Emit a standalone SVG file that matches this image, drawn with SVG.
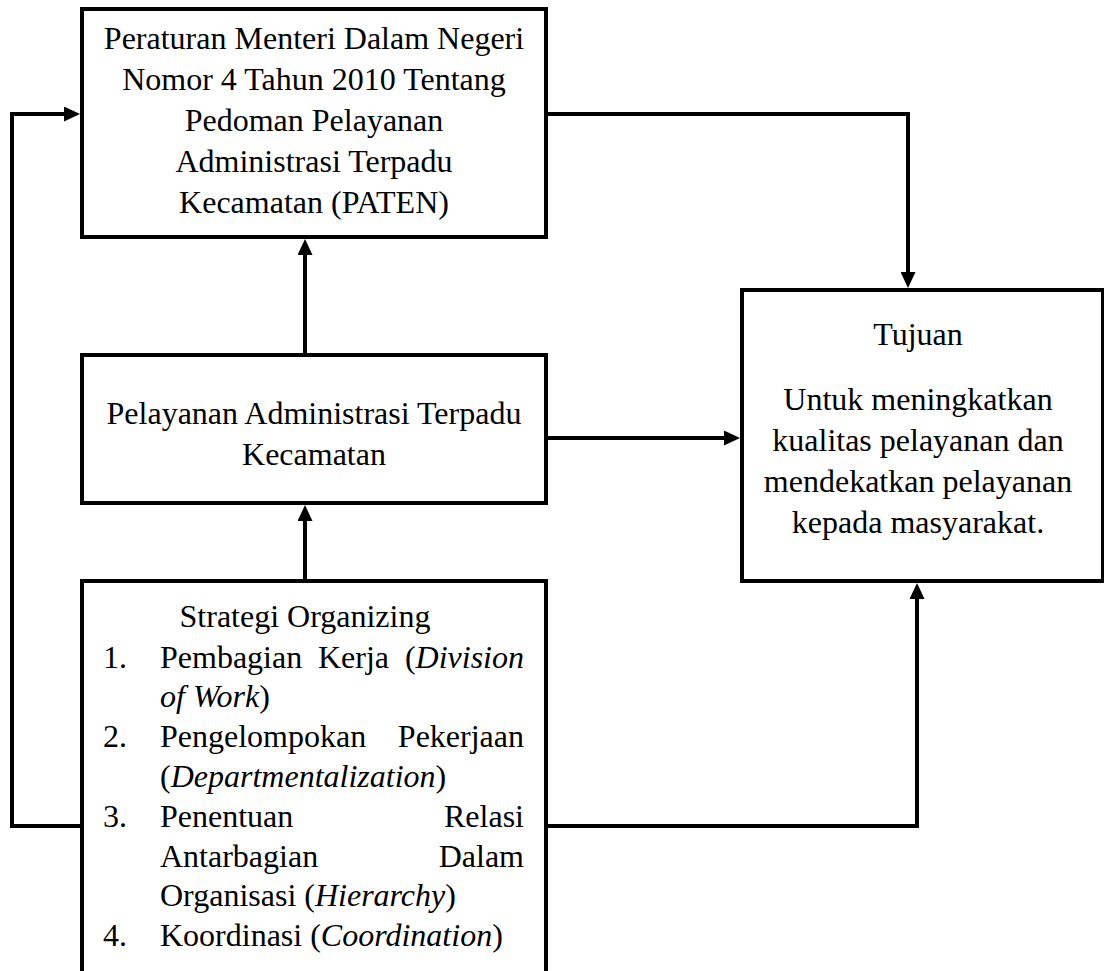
<svg xmlns="http://www.w3.org/2000/svg" width="1104" height="971" viewBox="0 0 1104 971">
<style>
.box{fill:#fff;stroke:#000;stroke-width:4}
.con{fill:none;stroke:#000;stroke-width:4;marker-end:url(#ah)}
.plain{fill:none;stroke:#000;stroke-width:4}
text{font-family:"Liberation Serif","Times New Roman",serif;font-size:32px;fill:#000}
.c{text-anchor:middle}
.e{text-anchor:end}
.i{font-style:italic}
</style>
<defs>
<marker id="ah" markerUnits="userSpaceOnUse" viewBox="0 0 16 15" markerWidth="16" markerHeight="15" refX="1" refY="7.5" orient="auto">
<path d="M0,0 L16,7.5 L0,15 z" fill="#000"/>
</marker>
</defs>
<rect width="1104" height="971" fill="#fff"/>
<g id="connectors">
<path class="con" d="M82,826 H12 V114 H65"/>
<path class="con" d="M546,114 H908 V273"/>
<path class="con" d="M305,353 V254"/>
<path class="con" d="M546,438 H725"/>
<path class="con" d="M305,579 V520"/>
<path class="con" d="M546,826 H917 V598"/>
</g>
<g id="node-peraturan">
<rect class="box" x="82" y="9" width="464" height="228"/>
<text class="c" x="314" y="49">Peraturan Menteri Dalam Negeri</text>
<text class="c" x="314" y="90">Nomor 4 Tahun 2010 Tentang</text>
<text class="c" x="314" y="131">Pedoman Pelayanan</text>
<text class="c" x="314" y="172">Administrasi Terpadu</text>
<text class="c" x="314" y="213">Kecamatan (PATEN)</text>
</g>
<g id="node-pelayanan">
<rect class="box" x="82" y="355" width="464" height="148"/>
<text class="c" x="314" y="424">Pelayanan Administrasi Terpadu</text>
<text class="c" x="314" y="465">Kecamatan</text>
</g>
<g id="node-tujuan">
<rect class="box" x="742" y="290" width="361" height="291"/>
<text class="c" x="918" y="345">Tujuan</text>
<text class="c" x="918" y="410">Untuk meningkatkan</text>
<text class="c" x="918" y="451">kualitas pelayanan dan</text>
<text class="c" x="918" y="492">mendekatkan pelayanan</text>
<text class="c" x="918" y="533">kepada masyarakat.</text>
</g>
<g id="node-strategi">
<path class="plain" d="M82,975 V581 H546 V975" fill="#fff"/>
<text class="c" x="305" y="627">Strategi Organizing</text>
<text x="103" y="668">1.</text>
<text x="160" y="668">Pembagian</text>
<text x="318" y="668">Kerja</text>
<text class="e" x="524" y="668">(<tspan class="i">Division</tspan></text>
<text x="160" y="707"><tspan class="i">of Work</tspan>)</text>
<text x="103" y="747">2.</text>
<text x="160" y="747">Pengelompokan</text>
<text class="e" x="524" y="747">Pekerjaan</text>
<text x="160" y="787">(<tspan class="i">Departmentalization</tspan>)</text>
<text x="103" y="827">3.</text>
<text x="160" y="827">Penentuan</text>
<text class="e" x="524" y="827">Relasi</text>
<text x="160" y="867">Antarbagian</text>
<text class="e" x="524" y="867">Dalam</text>
<text x="160" y="906">Organisasi (<tspan class="i">Hierarchy</tspan>)</text>
<text x="103" y="946">4.</text>
<text x="160" y="946">Koordinasi (<tspan class="i">Coordination</tspan>)</text>
</g>
</svg>
